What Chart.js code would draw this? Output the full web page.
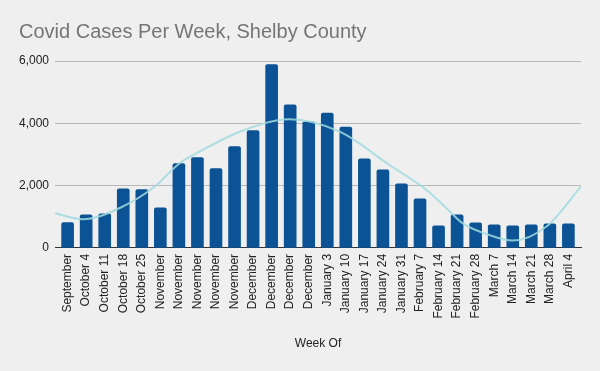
<!DOCTYPE html>
<html>
<head>
<meta charset="utf-8">
<title>Covid Cases Per Week, Shelby County</title>
<script src="https://cdn.jsdelivr.net/npm/chart.js@4/dist/chart.umd.min.js"></script>
<style>
	html, body { margin: 0; padding: 0; background: #efefef; }
	canvas { display: block; }
</style>
</head>
<body>
<canvas id="casesChart" width="600" height="371"></canvas>
<script>
// weeks as they show on the axis (google cut the long ones)
var weekLabels = ['September', 'October 4', 'October 11', 'October 18', 'October 25',
	'November', 'November', 'November', 'November', 'November',
	'December', 'December', 'December', 'December',
	'January 3', 'January 10', 'January 17', 'January 24', 'January 31',
	'February 7', 'February 14', 'February 21', 'February 28',
	'March 7', 'March 14', 'March 21', 'March 28', 'April 4'];

var weekCases = [810, 1065, 1097, 1900, 1870, 1290, 2705, 2900, 2545, 3255,
	3765, 5885, 4590, 4050, 4330, 3880, 2860, 2505, 2055, 1575,
	707, 1060, 803, 738, 707, 738, 770, 770];

// trendline, x in week index
var trendX = [-0.68, 0.82, 2.81, 4.70, 6.04, 7.12, 9.28, 11.97, 14.67, 17.36, 19.35, 20.43, 21.29, 22.75, 23.99, 25.82, 27.68];
var trendY = [1110, 920, 1280, 1970, 2720, 3090, 3730, 4130, 3730, 2660, 1860, 1275, 795, 410, 235, 685, 1970];

var yTicks = [0, 2000, 4000, 6000];

Chart.defaults.font.family = "'Liberation Sans', Arial, sans-serif";
Chart.defaults.color = '#222';

var barPoints = weekCases.map(function (v, i) { return { x: i, y: v }; });
var trendPoints = trendX.map(function (x, i) { return { x: x, y: trendY[i] }; });

var ctx = document.getElementById('casesChart');

var casesChart = new Chart(ctx, {
	type: 'bar',
	data: {
		datasets: [
			{
				type: 'line',
				data: trendPoints,
				borderColor: 'rgba(160, 218, 222, 0.85)',
				borderWidth: 2,
				pointRadius: 0,
				fill: false,
				cubicInterpolationMode: 'monotone',
				order: 0
			},
			{
				data: barPoints,
				backgroundColor: '#0b5394',
				barThickness: 12,
				borderRadius: { topLeft: 2, topRight: 2 },
				borderSkipped: 'start',
				order: 1
			}
		]
	},
	options: {
		responsive: false,
		animation: false,
		layout: {
			padding: { left: 19, right: 19, top: 0, bottom: 20 }
		},
		plugins: {
			legend: { display: false },
			tooltip: { enabled: false },
			title: {
				display: true,
				text: 'Covid Cases Per Week, Shelby County',
				align: 'start',
				color: '#757575',
				font: { size: 20, weight: 'normal' },
				padding: { top: 20, bottom: 17 }
			}
		},
		scales: {
			x: {
				type: 'linear',
				offset: false,
				min: -0.68,
				max: 27.68,
				afterBuildTicks: function (axis) {
					axis.ticks = weekLabels.map(function (l, i) { return { value: i }; });
				},
				ticks: {
					autoSkip: false,
					minRotation: 90,
					maxRotation: 90,
					padding: 6,
					font: { size: 12 },
					callback: function (value, index) { return weekLabels[index]; }
				},
				grid: { display: false, drawTicks: false, offset: false },
				border: { display: true, color: '#333', width: 1 },
				title: {
					display: true,
					text: 'Week Of',
					color: '#222',
					font: { size: 12 },
					padding: { top: 12, bottom: 0 }
				}
			},
			y: {
				min: 0,
				max: 6000,
				afterBuildTicks: function (axis) {
					axis.ticks = yTicks.map(function (v) { return { value: v }; });
				},
				afterFit: function (axis) {
					axis.width = 36;
				},
				ticks: {
					padding: 6,
					font: { size: 12 },
					callback: function (value) { return value.toLocaleString('en-US'); }
				},
				grid: { color: '#b7b7b7', drawTicks: false },
				border: { display: false }
			}
		}
	}
});
</script>
</body>
</html>
